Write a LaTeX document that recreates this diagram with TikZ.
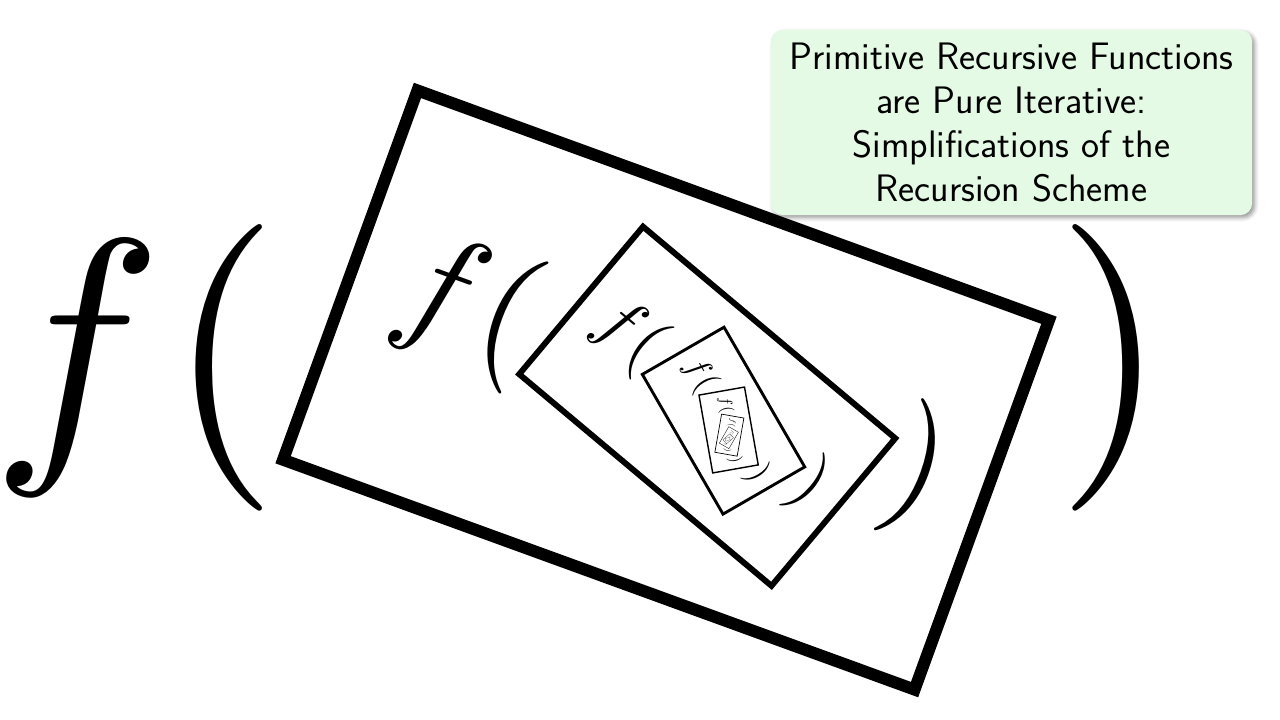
\documentclass[tikz,border=0pt]{standalone}
\usetikzlibrary{shadows.blur}
\definecolor{titlegreen}{RGB}{228,250,228}
\tikzset{
  glyph/.style={transform shape, inner sep=0pt, xscale=21.5, yscale=-21.5},
  frame/.style={draw, rotate=20},
  titlebox/.style={fill=titlegreen, rounded corners=9pt,
    blur shadow={shadow xshift=2pt, shadow yshift=-2pt, shadow blur radius=3pt},
    minimum width=361pt, minimum height=139pt, align=center,
    font=\sffamily\fontsize{28.7}{33}\selectfont}
}
\begin{document}
\begin{tikzpicture}[x=0.75pt,y=0.75pt,yscale=-1,xscale=1]
\useasboundingbox (0,0) rectangle (1280,720);

% level 0
\begin{scope}[shift={(666,390)},line width=9pt]
\path[frame] (-336,-196.5) rectangle (336,196.5);
\node[glyph] (f0) at (-589,-22.5) {$f$};
\node[glyph] (lp0) at (-442.5,-22.5) {$($};
\node[glyph] (rp0) at (446,-22.5) {$)$};
% level 1
\begin{scope}[shift={(41.25,16.25)},rotate=20,scale=0.49,line width=4.41pt]
\path[frame] (-336,-196.5) rectangle (336,196.5);
\node[glyph] (f1) at (-589,-22.5) {$f$};
\node[glyph] (lp1) at (-442.5,-22.5) {$($};
\node[glyph] (rp1) at (446,-22.5) {$)$};
% level 2
\begin{scope}[shift={(41.25,16.25)},rotate=20,scale=0.49,line width=2.16pt]
\path[frame] (-336,-196.5) rectangle (336,196.5);
\node[glyph] (f2) at (-589,-22.5) {$f$};
\node[glyph] (lp2) at (-442.5,-22.5) {$($};
\node[glyph] (rp2) at (446,-22.5) {$)$};
% level 3
\begin{scope}[shift={(41.25,16.25)},rotate=20,scale=0.49,line width=1.06pt]
\path[frame] (-336,-196.5) rectangle (336,196.5);
\node[glyph] (f3) at (-589,-22.5) {$f$};
\node[glyph] (lp3) at (-442.5,-22.5) {$($};
\node[glyph] (rp3) at (446,-22.5) {$)$};
% level 4
\begin{scope}[shift={(41.25,16.25)},rotate=20,scale=0.49,line width=0.52pt]
\path[frame] (-336,-196.5) rectangle (336,196.5);
\node[glyph] (f4) at (-589,-22.5) {$f$};
\node[glyph] (lp4) at (-442.5,-22.5) {$($};
\node[glyph] (rp4) at (446,-22.5) {$)$};
% level 5
\begin{scope}[shift={(41.25,16.25)},rotate=20,scale=0.49,line width=0.25pt]
\path[frame] (-336,-196.5) rectangle (336,196.5);
\node[glyph] (f5) at (-589,-22.5) {$f$};
\node[glyph] (lp5) at (-442.5,-22.5) {$($};
\node[glyph] (rp5) at (446,-22.5) {$)$};
% level 6
\begin{scope}[shift={(41.25,16.25)},rotate=20,scale=0.49,line width=0.125pt]
\path[frame] (-336,-196.5) rectangle (336,196.5);
\node[glyph] (f6) at (-589,-22.5) {$f$};
\node[glyph] (lp6) at (-442.5,-22.5) {$($};
\node[glyph] (rp6) at (446,-22.5) {$)$};
% level 7
\begin{scope}[shift={(41.25,16.25)},rotate=20,scale=0.49,line width=0.06pt]
\path[frame] (-336,-196.5) rectangle (336,196.5);
\node[glyph] (f7) at (-589,-22.5) {$f$};
\node[glyph] (lp7) at (-442.5,-22.5) {$($};
\node[glyph] (rp7) at (446,-22.5) {$)$};
\end{scope}
\end{scope}
\end{scope}
\end{scope}
\end{scope}
\end{scope}
\end{scope}
\end{scope}

% Title
\node[titlebox] (title) at (1011.5,122.5) {Primitive Recursive Functions\\are Pure Iterative:\\Simplifications of the\\Recursion Scheme};

\end{tikzpicture}
\end{document}
